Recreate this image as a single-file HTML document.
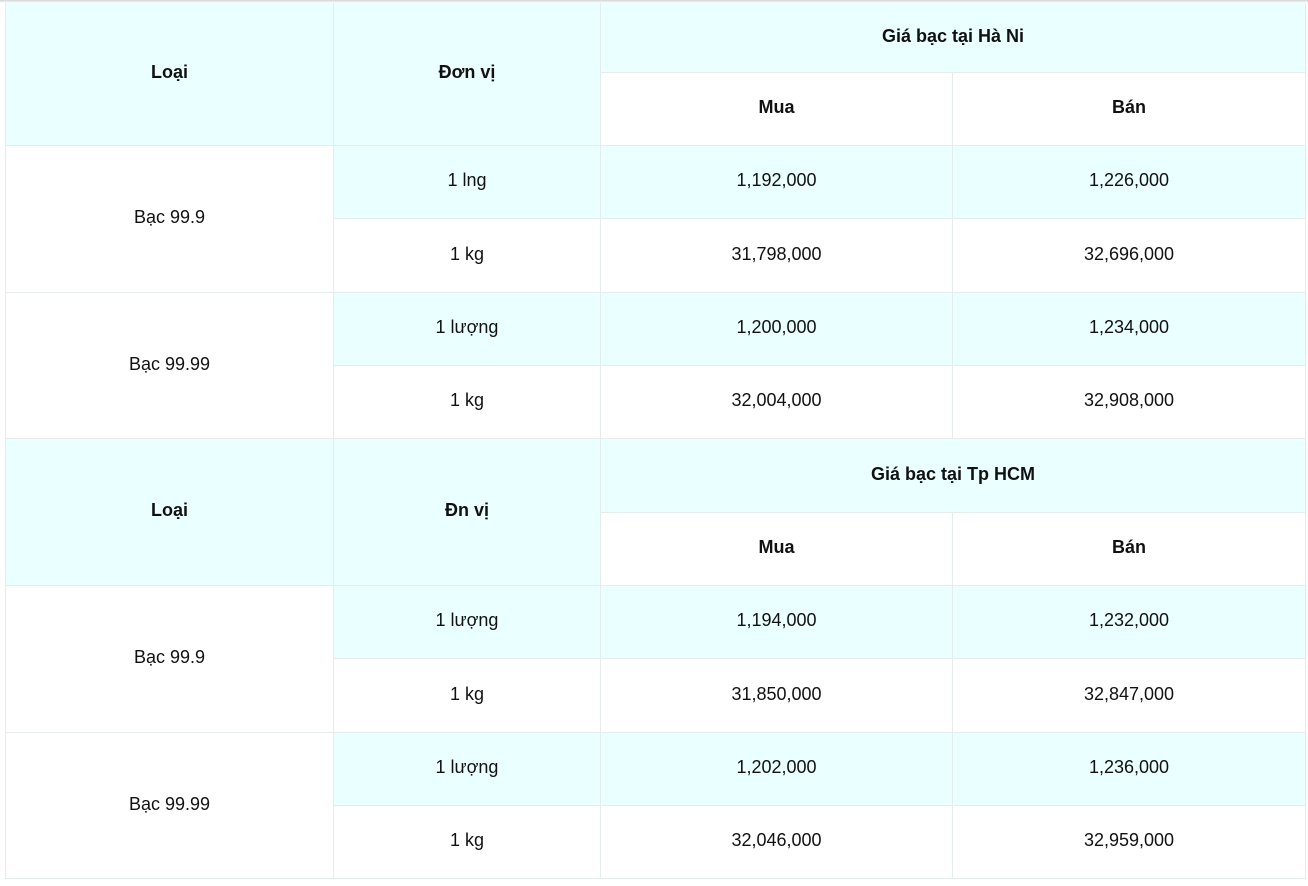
<!DOCTYPE html><html><head><style>
body{margin:0;width:1308px;height:886px;background:#fff;font-family:"Liberation Sans",sans-serif;color:#111;position:relative;overflow:hidden}
.sh{position:absolute;left:0;top:0;width:1308px;height:3px;background:linear-gradient(#cfd6d6,#fff)}
.c{position:absolute;box-sizing:border-box;border-right:1px solid #e6ecec;border-bottom:1px solid #e6ecec;display:flex;align-items:center;justify-content:center;font-size:18px;padding-bottom:3px}
.h{background:#eaffff;font-weight:bold}
.b{background:#eaffff}
</style></head><body><div class="sh"></div>
<div style="position:absolute;left:5px;top:2px;width:1px;height:877px;background:#e6ecec;z-index:2"></div>
<div id="t"></div>
<script>
var X=[6,334,601,953,1306],Y=[3,73,146,219,293,366,439,513,586,659,733,806,879];
var h='';
function c(x0,x1,y0,y1,txt,cls){h+='<div class="c '+(cls||'')+'" style="left:'+X[x0]+'px;width:'+(X[x1]-X[x0])+'px;top:'+Y[y0]+'px;height:'+(Y[y1]-Y[y0])+'px">'+txt+'</div>';}
function block(o,title,dv,data){
c(0,1,o,o+2,'Loại','h');c(1,2,o,o+2,dv,'h');c(2,4,o,o+1,title,'h');c(2,3,o+1,o+2,'<b>Mua</b>','');c(3,4,o+1,o+2,'<b>Bán</b>','');
for(var i=0;i<2;i++){var r=o+2+i*2;c(0,1,r,r+2,data[i][0]);
c(1,2,r,r+1,data[i][1],'b');c(2,3,r,r+1,data[i][2],'b');c(3,4,r,r+1,data[i][3],'b');
c(1,2,r+1,r+2,'1 kg');c(2,3,r+1,r+2,data[i][4]);c(3,4,r+1,r+2,data[i][5]);}
}
block(0,'Giá bạc tại Hà Ni','Đơn vị',[['Bạc 99.9','1 lng','1,192,000','1,226,000','31,798,000','32,696,000'],['Bạc 99.99','1 lượng','1,200,000','1,234,000','32,004,000','32,908,000']]);
block(6,'Giá bạc tại Tp HCM','Đn vị',[['Bạc 99.9','1 lượng','1,194,000','1,232,000','31,850,000','32,847,000'],['Bạc 99.99','1 lượng','1,202,000','1,236,000','32,046,000','32,959,000']]);
document.getElementById('t').innerHTML=h;
</script></body></html>
